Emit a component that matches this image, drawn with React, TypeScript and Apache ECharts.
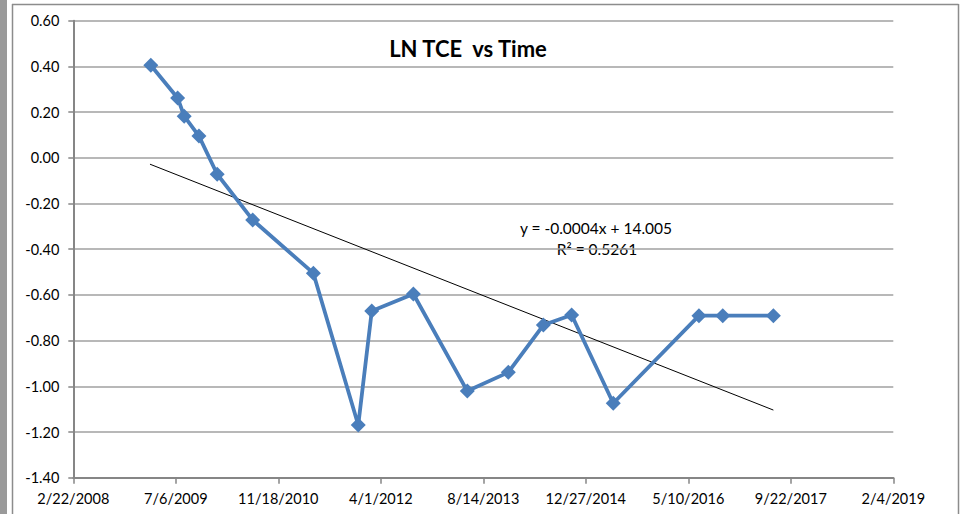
import React, { useEffect, useRef } from "react";
import * as echarts from "echarts";

// Excel serial day numbers (1900 date system)
const dates = [
  39878, 40009, 40041, 40113, 40202, 40375, 40671, 40890, 40956, 41159,
  41422, 41622, 41793, 41931, 42134, 42552, 42668, 42915,
];
const lnTce = [
  0.405, 0.262, 0.182, 0.095, -0.072, -0.272, -0.505, -1.169, -0.67, -0.596,
  -1.021, -0.939, -0.732, -0.688, -1.074, -0.691, -0.691, -0.691,
];
const trendX = [39874, 42915];
const trendY = [-0.028, -1.104];
const titleText = "LN TCE  vs Time";
const equationText = "y = -0.0004x + 14.005";
const r2Text = "R² = 0.5261";

function serialToLabel(v: number): string {
  const ms = Date.UTC(1899, 11, 30) + Math.round(v) * 86400000;
  const d = new Date(ms);
  return `${d.getUTCMonth() + 1}/${d.getUTCDate()}/${d.getUTCFullYear()}`;
}

const FONT = "Lato, 'Open Sans', sans-serif";

export default function App() {
  const ref = useRef<HTMLDivElement>(null);
  useEffect(() => {
    document.body.style.margin = "0";
    if (!ref.current) return;
    const chart = echarts.init(ref.current, undefined, { renderer: "svg" });
    chart.setOption({
      animation: false,
      backgroundColor: "#ffffff",
      textStyle: { fontFamily: FONT },
      title: {
        text: titleText,
        left: 463,
        top: 32,
        textAlign: "center",
        textStyle: { fontSize: 22, fontWeight: "bold", color: "#000", fontFamily: FONT },
      },
      grid: { left: 73.3, top: 20.7, right: 73.7, bottom: 36.3, containLabel: false },
      xAxis: {
        type: "value",
        min: 39500,
        max: 43500,
        interval: 500,
        axisLine: { show: true, onZero: false, lineStyle: { color: "#868686", width: 2 } },
        axisTick: { show: true, length: 6, lineStyle: { color: "#868686", width: 1.5 } },
        axisLabel: {
          formatter: (v: number) => serialToLabel(v),
          fontSize: 14.5,
          color: "#000",
          margin: 13,
          fontFamily: FONT,
        },
        splitLine: { show: false },
      },
      yAxis: {
        type: "value",
        min: -1.4,
        max: 0.6,
        interval: 0.2,
        axisLine: { show: true, lineStyle: { color: "#868686", width: 2 } },
        axisTick: { show: true, length: 5, lineStyle: { color: "#868686", width: 1.5 } },
        axisLabel: {
          formatter: (v: number) => v.toFixed(2),
          fontSize: 14.5,
          color: "#000",
          margin: 14,
          fontFamily: FONT,
        },
        splitLine: { show: true, lineStyle: { color: "#a0a0a0", width: 1.5 } },
      },
      series: [
        {
          type: "line",
          data: dates.map((d, i) => [d, lnTce[i]]),
          symbol: "diamond",
          symbolSize: 15,
          lineStyle: { color: "#4a7ebb", width: 3.8 },
          itemStyle: { color: "#4a7ebb" },
          z: 3,
        },
        {
          type: "line",
          data: trendX.map((d, i) => [d, trendY[i]]),
          symbol: "none",
          lineStyle: { color: "#000", width: 1 },
          z: 2,
        },
      ],
      graphic: [
        { type: "rect", shape: { x: 0, y: 0, width: 7, height: 514 }, style: { fill: "#9a9a9a" }, silent: true },
        { type: "line", shape: { x1: 12.5, y1: 4, x2: 12.5, y2: 514 }, style: { stroke: "#8c8c8c", lineWidth: 1.5 }, silent: true },
        { type: "line", shape: { x1: 12, y1: 4.5, x2: 958.5, y2: 4.5 }, style: { stroke: "#8c8c8c", lineWidth: 1.5 }, silent: true },
        { type: "line", shape: { x1: 958.5, y1: 4, x2: 958.5, y2: 514 }, style: { stroke: "#8c8c8c", lineWidth: 1.5 }, silent: true },
        {
          type: "text",
          x: 596,
          y: 228,
          style: { text: equationText, fontSize: 15.5, fill: "#000", align: "center", verticalAlign: "middle", fontFamily: FONT },
          silent: true,
        },
        {
          type: "text",
          x: 597,
          y: 249,
          style: { text: r2Text, fontSize: 15.5, fill: "#000", align: "center", verticalAlign: "middle", fontFamily: FONT },
          silent: true,
        },
      ],
    });
    return () => chart.dispose();
  }, []);
  return <div ref={ref} style={{ width: 967, height: 514 }} />;
}
